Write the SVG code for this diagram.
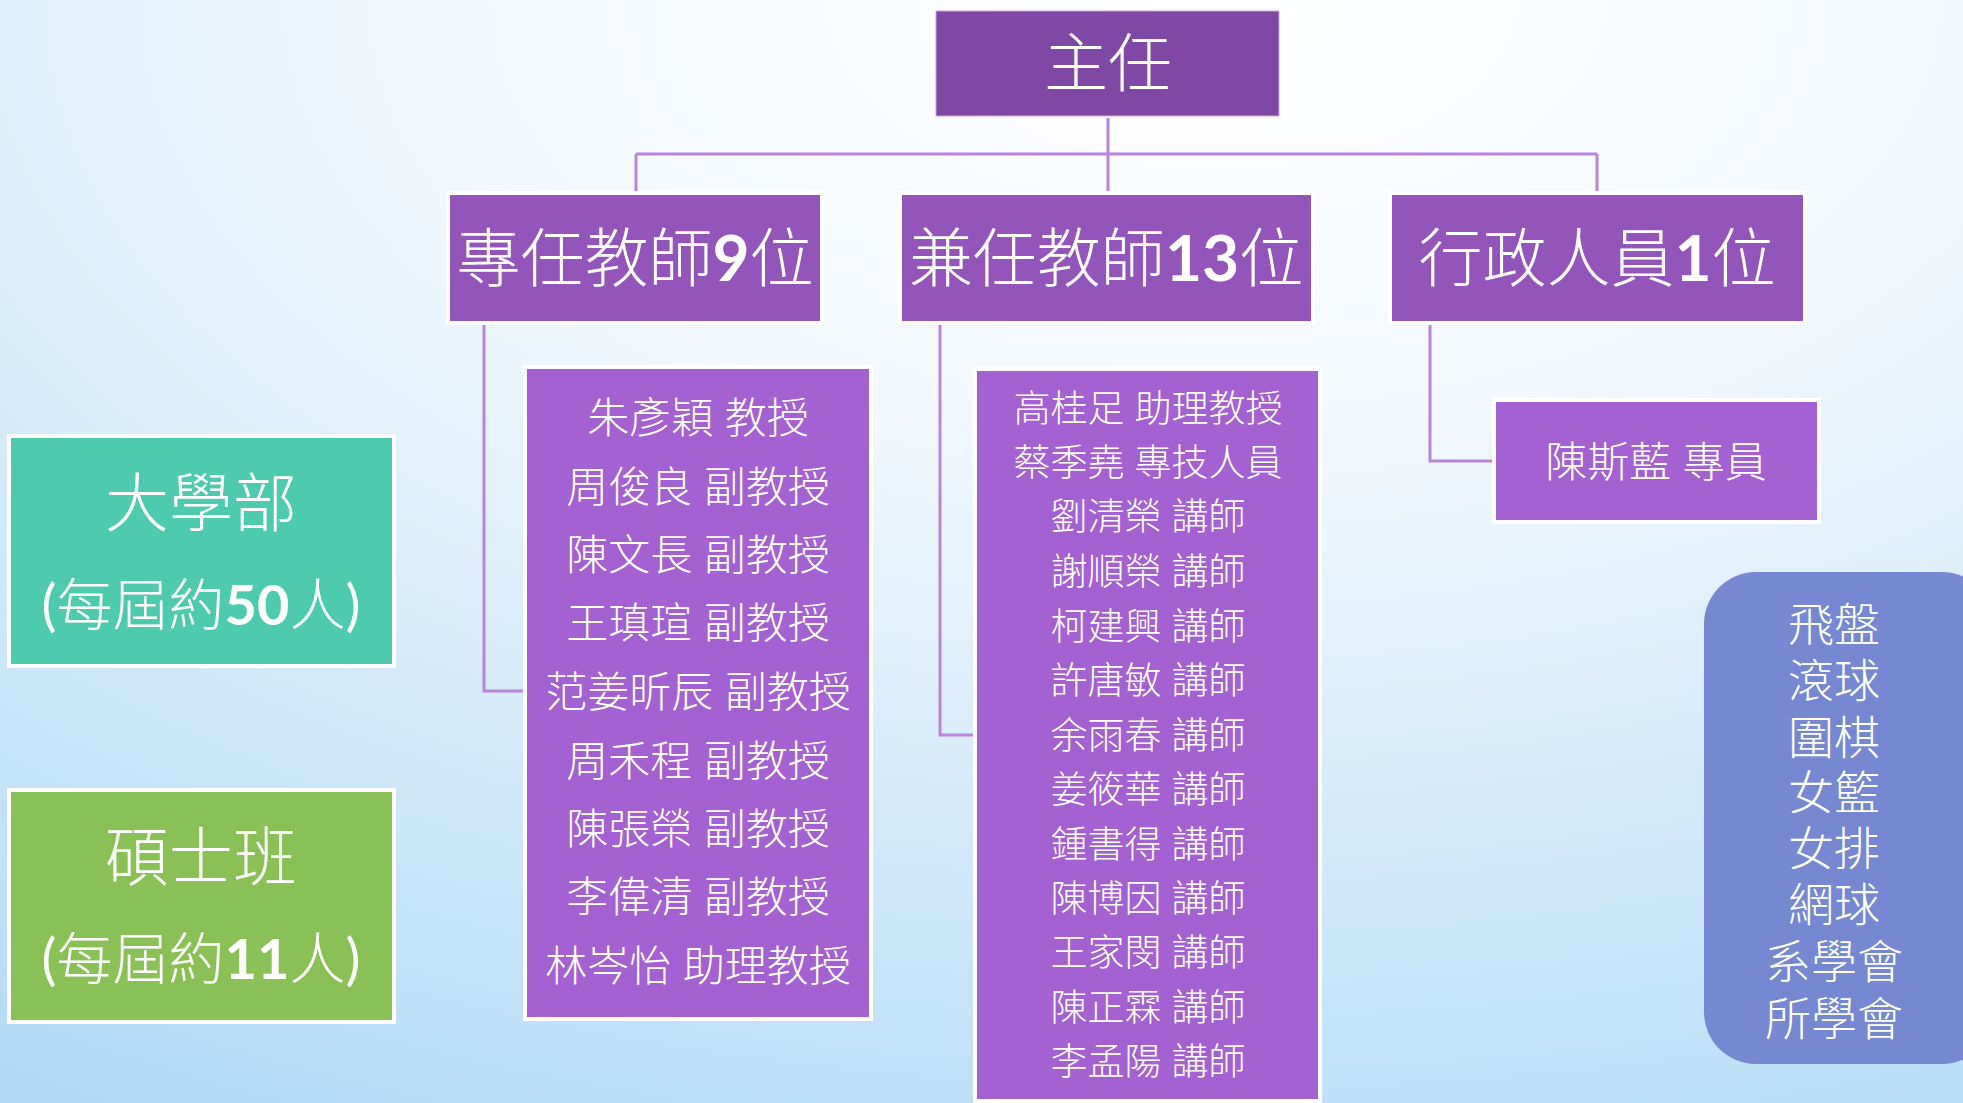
<svg xmlns="http://www.w3.org/2000/svg" width="1963" height="1103" viewBox="0 0 1963 1103">
<defs>
<radialGradient id="bg" cx="0.62" cy="0.0" r="1.15" fx="0.62" fy="0.0">
<stop offset="0" stop-color="#FFFFFF"/>
<stop offset="0.35" stop-color="#F2F8FD"/>
<stop offset="0.7" stop-color="#CFE8F9"/>
<stop offset="1" stop-color="#B3DAF5"/>
</radialGradient>
<style>
text{font-family:"Lato","Noto Sans CJK TC","Noto Sans CJK SC",sans-serif;fill:#FFFFFF;text-anchor:middle;dominant-baseline:central;font-weight:300}
.num{font-weight:700}
.par{font-weight:400}
.hdr{fill:#9455BB;stroke:#FFFFFF;stroke-width:4}
.lst{fill:#A461D1;stroke:#FFFFFF;stroke-width:4}
.conn{fill:none;stroke:#B985DA;stroke-width:3}
.t64{font-size:64px}
.t42{font-size:42px}
.t37{font-size:37px}
.t46{font-size:46px}
.t56{font-size:56px}
</style>
</defs>
<rect x="0" y="0" width="1963" height="1103" fill="url(#bg)"/>

<g id="connectors">
<path class="conn" d="M1108,118 V154"/>
<path class="conn" d="M636,154 H1597"/>
<path class="conn" d="M636,154 V193"/>
<path class="conn" d="M1108,154 V193"/>
<path class="conn" d="M1597,154 V193"/>
<path class="conn" d="M484,323 V691 H525"/>
<path class="conn" d="M940,323 V735 H975"/>
<path class="conn" d="M1430,324 V461 H1494"/>
</g>

<g id="director">
<rect x="936" y="11" width="343" height="105" fill="#8048A5" stroke="#C9A6E0" stroke-width="1"/>
<text class="t64" x="1108" y="61">主任</text>
</g>

<g id="fulltime">
<rect class="hdr" x="448" y="193" width="374" height="130"/>
<text class="t64" x="635" y="256">專任教師<tspan class="num">9</tspan>位</text>
</g>

<g id="parttime">
<rect class="hdr" x="900" y="193" width="413" height="130"/>
<text class="t64" x="1106" y="256">兼任教師<tspan class="num">13</tspan>位</text>
</g>

<g id="admin">
<rect class="hdr" x="1390" y="193" width="415" height="130"/>
<text class="t64" x="1597" y="256">行政人員<tspan class="num">1</tspan>位</text>
</g>

<g id="admin-staff">
<rect class="lst" x="1494" y="400" width="325" height="122"/>
<text class="t42" x="1656" y="461">陳斯藍 專員</text>
</g>

<g id="fulltime-list">
<rect class="lst" x="525" y="367" width="346" height="652"/>
<text class="t42" x="698" y="417">朱彥穎 教授</text>
<text class="t42" x="698" y="486">周俊良 副教授</text>
<text class="t42" x="698" y="554">陳文長 副教授</text>
<text class="t42" x="698" y="622">王瑱瑄 副教授</text>
<text class="t42" x="698" y="691">范姜昕辰 副教授</text>
<text class="t42" x="698" y="760">周禾程 副教授</text>
<text class="t42" x="698" y="828">陳張榮 副教授</text>
<text class="t42" x="698" y="896">李偉清 副教授</text>
<text class="t42" x="698" y="965">林岑怡 助理教授</text>
</g>

<g id="parttime-list">
<rect class="lst" x="975" y="369" width="345" height="732"/>
<text class="t37" x="1148" y="407">高桂足 助理教授</text>
<text class="t37" x="1148" y="461">蔡季堯 專技人員</text>
<text class="t37" x="1148" y="515">劉清榮 講師</text>
<text class="t37" x="1148" y="570">謝順榮 講師</text>
<text class="t37" x="1148" y="625">柯建興 講師</text>
<text class="t37" x="1148" y="679">許唐敏 講師</text>
<text class="t37" x="1148" y="734">余雨春 講師</text>
<text class="t37" x="1148" y="788">姜筱華 講師</text>
<text class="t37" x="1148" y="843">鍾書得 講師</text>
<text class="t37" x="1148" y="897">陳博因 講師</text>
<text class="t37" x="1148" y="951">王家閔 講師</text>
<text class="t37" x="1148" y="1006">陳正霖 講師</text>
<text class="t37" x="1148" y="1060">李孟陽 講師</text>
</g>

<g id="undergrad">
<rect x="9" y="436" width="385" height="230" fill="#4ECAAE" stroke="#FFFFFF" stroke-width="4"/>
<text class="t64" x="201" y="501">大學部</text>
<text class="t56" x="201" y="603"><tspan class="par">(</tspan>每屆約<tspan class="num">50</tspan>人<tspan class="par">)</tspan></text>
</g>

<g id="master">
<rect x="9" y="790" width="385" height="232" fill="#89C157" stroke="#FFFFFF" stroke-width="4"/>
<text class="t64" x="201" y="855">碩士班</text>
<text class="t56" x="201" y="957"><tspan class="par">(</tspan>每屆約<tspan class="num">11</tspan>人<tspan class="par">)</tspan></text>
</g>

<g id="clubs">
<rect x="1704" y="572" width="290" height="492" rx="52" ry="52" fill="#7588D1"/>
<text class="t46" x="1834" y="623">飛盤</text>
<text class="t46" x="1834" y="679">滾球</text>
<text class="t46" x="1834" y="736">圍棋</text>
<text class="t46" x="1834" y="791">女籃</text>
<text class="t46" x="1834" y="847">女排</text>
<text class="t46" x="1834" y="903">網球</text>
<text class="t46" x="1834" y="960">系學會</text>
<text class="t46" x="1834" y="1017">所學會</text>
</g>
</svg>
